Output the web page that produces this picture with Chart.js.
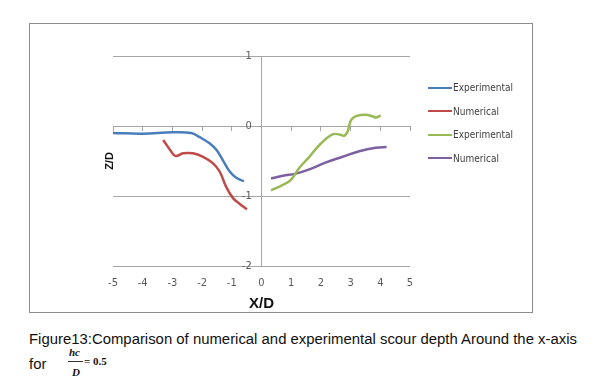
<!DOCTYPE html>
<html>
<head>
<meta charset="utf-8">
<script src="https://cdn.jsdelivr.net/npm/chart.js@4.4.1/dist/chart.umd.min.js"></script>
<style>
  body { margin: 0; background: #fff; width: 597px; height: 391px; position: relative; overflow: hidden; }
  #frame { position: absolute; left: 29px; top: 23px; width: 502px; height: 288px; border: 1px solid #8c8c8c; }
  #legend { position: absolute; left: 428px; top: 76px; font-family: "Liberation Sans Narrow", "DejaVu Sans Condensed", sans-serif; font-size: 10px; color: #404040; }
  #legend .item { height: 23.5px; display: flex; align-items: center; }
  #legend .swatch { width: 24px; height: 2px; margin-right: 1px; }
  .cap { position: absolute; font-family: "Liberation Sans", Arial, sans-serif; font-size: 14.9px; color: #111; white-space: nowrap; }
  .frac { position: absolute; font-family: "Liberation Serif", serif; font-weight: bold; font-size: 11px; color: #111; }
</style>
</head>
<body>
<div id="frame"><canvas id="chart" width="502" height="288"></canvas></div>
<div id="legend"></div>
<div class="cap" style="left:29px; top:331px;">Figure13:Comparison of numerical and experimental scour depth Around the x-axis</div>
<div class="cap" style="left:29px; top:356px;">for</div>
<div class="frac" style="left:69px; top:346px; font-style:italic;">hc</div>
<div style="position:absolute; left:68px; top:361px; width:15px; height:1px; background:#333;"></div>
<div class="frac" style="left:72px; top:366px; font-style:italic;">D</div>
<div class="frac" style="left:84px; top:355px;">= 0.5</div>

<script>
// series names and colours (Excel 2007 palette)
const seriesNames  = ['Experimental', 'Numerical', 'Experimental', 'Numerical'];
const seriesColors = ['#4a7ebb', '#be4b48', '#98b954', '#7d60a0'];

// left side, X/D < 0
const blueX = [-5, -4, -3, -2.37, -2.08, -1.74, -1.52, -1.30, -1.07, -0.85, -0.59];
const blueY = [-0.10, -0.11, -0.09, -0.10, -0.16, -0.25, -0.34, -0.49, -0.65, -0.74, -0.79];

const redX = [-3.31, -3.03, -2.89, -2.64, -2.31, -1.97, -1.64, -1.41, -1.19, -0.96, -0.74, -0.49];
const redY = [-0.20, -0.37, -0.43, -0.39, -0.39, -0.44, -0.53, -0.65, -0.87, -1.03, -1.11, -1.19];

// right side, X/D > 0
const greenX = [0.32, 0.72, 0.99, 1.27, 1.61, 2.0, 2.39, 2.62, 2.79, 2.90, 3.01, 3.18, 3.51, 3.73, 3.85, 4.01];
const greenY = [-0.92, -0.84, -0.77, -0.60, -0.44, -0.25, -0.12, -0.12, -0.14, -0.08, 0.08, 0.14, 0.16, 0.14, 0.12, 0.15];

const purpleX = [0.32, 0.72, 1.16, 1.61, 2.17, 2.73, 3.29, 3.85, 4.21];
const purpleY = [-0.75, -0.71, -0.68, -0.62, -0.52, -0.44, -0.36, -0.31, -0.30];

// axis ranges
const xMin = -5, xMax = 5;
const yMin = -2, yMax = 1;

const gridColor = '#a6a6a6';
const tickFont = { family: '"Liberation Sans Narrow", "DejaVu Sans Condensed", sans-serif', size: 11 };

function toPoints(xs, ys) {
  return xs.map((x, i) => ({ x: x, y: ys[i] }));
}

const allSeries = [[blueX, blueY], [redX, redY], [greenX, greenY], [purpleX, purpleY]];

const datasets = allSeries.map((s, i) => ({
  label: seriesNames[i],
  data: toPoints(s[0], s[1]),
  borderColor: seriesColors[i],
  borderWidth: 2.5,
  pointRadius: 0,
  tension: 0.4,
  fill: false
}));

// legend in html, like the excel one
const legend = document.getElementById('legend');
seriesNames.forEach((name, i) => {
  const item = document.createElement('div');
  item.className = 'item';
  item.innerHTML = `<span class="swatch" style="background:${seriesColors[i]}"></span><span>${name}</span>`;
  legend.appendChild(item);
});

const ctx = document.getElementById('chart').getContext('2d');
new Chart(ctx, {
  type: 'line',
  data: { datasets: datasets },
  options: {
    responsive: false,
    animation: false,
    layout: { padding: { left: 73, right: 122, top: 32, bottom: 0 } },
    plugins: { legend: { display: false }, tooltip: { enabled: false } },
    scales: {
      x: {
        type: 'linear', position: 'bottom', min: xMin, max: xMax,
        ticks: { stepSize: 1, padding: 11, color: '#595959', font: tickFont },
        grid: { display: false, drawTicks: false },
        border: { display: false },
        title: { display: true, text: 'X/D', color: '#111', font: { family: 'Liberation Sans, Arial, sans-serif', size: 15, weight: 'bold' }, padding: { top: 0, bottom: -1 } },
        afterFit: s => { s.height = 46; }
      },
      // x axis line drawn through y = 0 with its tick marks
      x2: {
        type: 'linear', position: { y: 0 }, min: xMin, max: xMax,
        ticks: { stepSize: 1, display: false },
        grid: { drawOnChartArea: false, tickLength: 4, color: gridColor },
        border: { display: true, color: gridColor }
      },
      y: {
        type: 'linear', position: 'left', min: yMin, max: yMax,
        ticks: { stepSize: 1, display: false },
        grid: { color: gridColor, drawTicks: false },
        border: { display: false },
        title: { display: true, text: 'Z/D', color: '#111', font: { family: 'Liberation Sans, Arial, sans-serif', size: 11, weight: 'bold' }, padding: 0 },
        afterFit: s => { s.width = 10; }
      },
      // y labels, set a little left of the x = 0 axis line
      y2: {
        type: 'linear', position: { x: -0.33 }, min: yMin, max: yMax,
        ticks: { stepSize: 1, color: '#595959', font: tickFont },
        grid: { display: false, drawTicks: false },
        border: { display: false }
      },
      // the vertical axis line itself
      y3: {
        type: 'linear', position: { x: 0 }, min: yMin, max: yMax,
        ticks: { stepSize: 1, display: false },
        grid: { drawOnChartArea: false, drawTicks: false },
        border: { display: true, color: gridColor }
      }
    }
  }
});
</script>
</body>
</html>
